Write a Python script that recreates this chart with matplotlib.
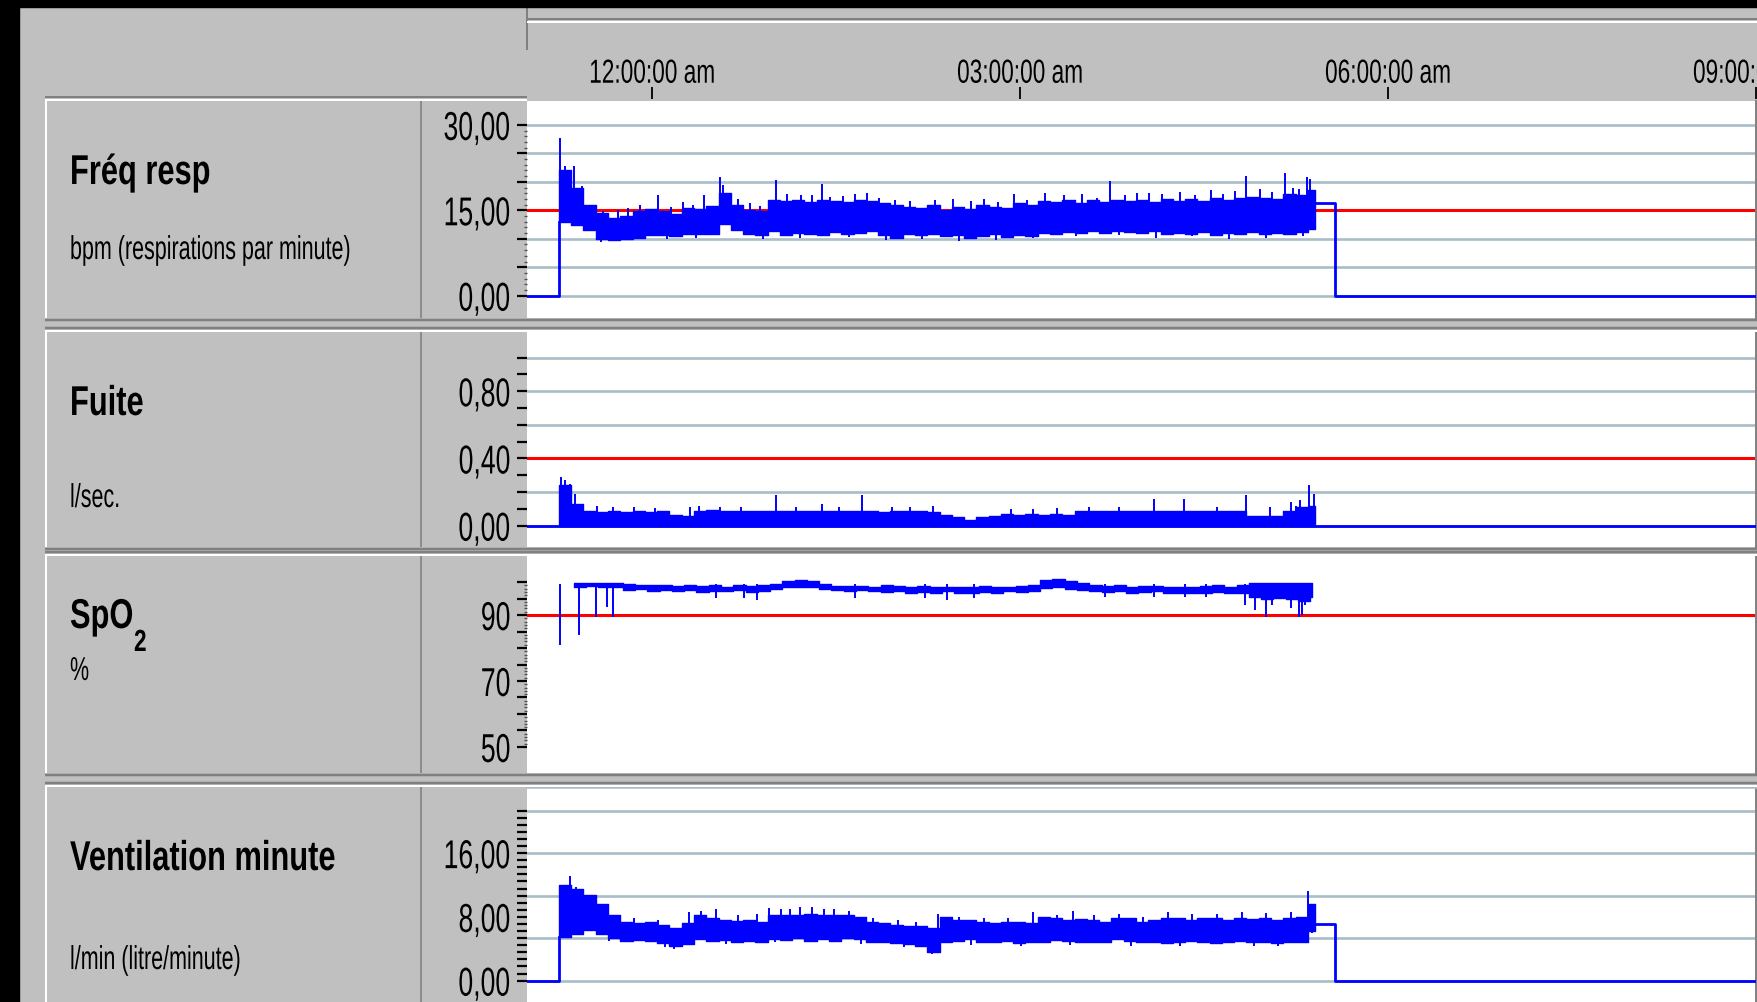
import numpy as np
import matplotlib
matplotlib.use("Agg")
import matplotlib.pyplot as plt
from matplotlib.transforms import Affine2D
from matplotlib.patheffects import AbstractPathEffect
from matplotlib.patches import Rectangle
from matplotlib.lines import Line2D

plt.rcParams['font.family'] = ['Liberation Sans', 'DejaVu Sans']

# ---------------- values ----------------
# time in hours after midnight (0 = 12:00:00 am)
hour_ticks = [0, 3, 6, 9]
hour_labels = ['12:00:00 am', '03:00:00 am', '06:00:00 am', '09:00:00 am']
view_start, view_end = -1.02, 8.99

rec_start = -0.76   # recording starts
rec_end = 5.40      # last recorded breath
tail_end = 5.56     # held value falls back to zero
bin_h = 0.1         # one envelope column = 6 min

panel_titles = ['Fréq resp', 'Fuite', 'SpO', 'Ventilation minute']
panel_units = ['bpm (respirations par minute)', 'l/sec.', '%', 'l/min (litre/minute)']

# Fréq resp (bpm): min / max of the trace per column, plus the spikes
freq_lo = [12.9, 12.4, 11.5, 10.0, 9.8, 10.0, 10.2, 10.6, 10.6, 10.4,
           10.8, 10.9, 10.8, 12.6, 11.6, 10.8, 10.7, 11.4, 10.6, 11.0,
           10.8, 10.6, 11.2, 10.8, 11.0, 11.4, 10.6, 10.2, 10.8, 10.6,
           10.9, 10.4, 10.6, 10.2, 10.5, 10.9, 10.3, 10.6, 10.4, 11.0,
           10.8, 11.2, 11.0, 11.3, 11.0, 11.4, 11.2, 11.0, 11.3, 10.9,
           11.0, 10.8, 11.1, 10.7, 11.0, 10.9, 11.2, 10.8, 11.0, 10.9,
           11.1, 11.8]
freq_hi = [22.0, 19.0, 16.0, 14.6, 13.6, 14.0, 14.8, 15.2, 14.8, 14.4,
           15.4, 15.2, 15.8, 18.0, 16.0, 15.0, 14.8, 16.8, 16.6, 16.8,
           16.4, 16.8, 16.6, 16.4, 16.8, 16.6, 16.2, 16.0, 15.6, 15.4,
           16.0, 15.0, 15.6, 15.2, 16.0, 15.6, 15.4, 16.2, 16.0, 16.6,
           16.4, 16.8, 16.2, 16.8, 16.4, 16.8, 16.6, 16.8, 16.4, 17.0,
           16.6, 17.0, 16.6, 17.2, 16.8, 17.2, 17.4, 17.2, 17.0, 17.8,
           17.6, 18.6]
freq_spike_t = [-0.755, -0.71, -0.68, -0.64, -0.60, -0.57, 0.05, 0.42, 0.55, 0.58,
                1.01, 1.10, 1.21, 1.38, 1.55, 1.75, 2.45, 2.95, 3.20, 3.73,
                4.05, 4.30, 4.55, 4.84, 4.95, 5.15, 5.22, 5.33, 5.36,
                -0.50, -0.40, -0.28, -0.20, -0.10, 0.15, 0.25, 0.33, 0.70, 0.80,
                0.88, 1.30, 1.45, 1.65, 1.85, 1.98, 2.10, 2.30, 2.60, 2.70,
                2.82, 3.05, 3.35, 3.50, 3.62, 3.85, 3.95, 4.15, 4.42, 4.65,
                4.75, 5.05, 5.27,
                -0.42, -0.30, -0.18, 0.12, 0.36, 0.90, 1.20, 1.60, 1.90, 2.20,
                2.50, 2.80, 3.10, 3.45, 3.80, 4.10, 4.40, 4.70, 5.00, 5.30]
freq_spike_v = [27.7, 22.8, 21.5, 22.8, 19.0, 19.3, 17.6, 17.6, 20.8, 19.4,
                20.3, 17.8, 17.6, 19.7, 17.5, 18.0, 17.0, 17.8, 18.0, 20.2,
                18.0, 18.2, 18.5, 21.0, 18.8, 21.5, 19.0, 20.8, 20.5,
                15.6, 14.8, 15.0, 15.4, 16.0, 15.6, 16.4, 16.0, 17.0, 16.2,
                15.8, 17.6, 17.4, 17.8, 17.2, 16.8, 16.6, 16.8, 16.6, 17.0,
                16.4, 16.8, 17.6, 17.8, 17.2, 17.6, 18.0, 17.8, 17.6, 17.8,
                18.4, 18.2, 18.8,
                9.4, 9.6, 9.8, 9.9, 10.2, 10.0, 10.2, 10.3, 9.8, 10.0,
                9.6, 9.8, 10.2, 10.4, 10.6, 10.2, 10.4, 10.0, 10.2, 10.4]
freq_base = 13.0
freq_tail = 16.2
freq_alarm = 15.0
freq_ticks = [0, 5, 10, 15, 20, 25, 30]
freq_ticklabels = ['0,00', '', '', '15,00', '', '', '30,00']
freq_grid = [0, 5, 10, 15, 20, 25, 30]

# Fuite (l/sec): top of the filled-looking trace per column, plus spikes
fuite_hi = [0.24, 0.13, 0.085, 0.08, 0.085, 0.08, 0.085, 0.08, 0.085, 0.065,
            0.06, 0.09, 0.095, 0.09, 0.09, 0.085, 0.09, 0.09, 0.085, 0.085,
            0.09, 0.085, 0.085, 0.09, 0.085, 0.085, 0.08, 0.085, 0.085, 0.085,
            0.08, 0.065, 0.05, 0.035, 0.05, 0.06, 0.07, 0.065, 0.07, 0.065,
            0.07, 0.065, 0.085, 0.09, 0.085, 0.09, 0.09, 0.085, 0.09, 0.085,
            0.09, 0.09, 0.085, 0.09, 0.09, 0.085, 0.06, 0.055, 0.06, 0.09,
            0.11, 0.12]
fuite_spike_t = [-0.74, -0.71, -0.67, -0.63, -0.45, -0.32, -0.15, 0.02, 0.31, 0.38,
                 0.55, 0.72, 1.006, 1.17, 1.38, 1.52, 1.71, 1.95, 2.10, 2.29,
                 2.92, 3.10, 3.30, 3.56, 3.80, 4.09, 4.33, 4.60, 4.84, 5.03,
                 5.20, 5.24, 5.28, 5.35, 5.39]
fuite_spike_v = [0.29, 0.27, 0.25, 0.19, 0.12, 0.11, 0.11, 0.105, 0.11, 0.12,
                 0.11, 0.11, 0.185, 0.11, 0.13, 0.11, 0.18, 0.11, 0.11, 0.115,
                 0.10, 0.10, 0.105, 0.11, 0.11, 0.16, 0.16, 0.11, 0.18, 0.11,
                 0.14, 0.12, 0.15, 0.24, 0.19]
fuite_alarm = 0.4
fuite_ticks = [0.0, 0.1, 0.2, 0.3, 0.4, 0.5, 0.6, 0.7, 0.8, 0.9, 1.0]
fuite_ticklabels = ['0,00', '', '', '', '0,40', '', '', '', '0,80', '', '']
fuite_grid = [0.0, 0.2, 0.4, 0.6, 0.8, 1.0]

# SpO2 (%): envelope per column from -0.64 h, plus the downward dips
spo2_start = -0.64
spo2_end = 5.376
spo2_lo = [98.6, 98.8, 98.6, 98.4, 97.6, 97.8, 97.4, 97.6, 97.2, 97.6,
           97.0, 97.4, 97.2, 97.6, 97.0, 97.2, 97.8, 98.4, 98.6, 98.6,
           97.8, 97.6, 97.4, 97.6, 97.2, 97.0, 97.2, 96.8, 97.0, 96.8,
           97.2, 96.6, 96.8, 97.0, 96.8, 97.2, 97.0, 97.4, 98.2, 98.4,
           98.0, 97.6, 97.2, 97.0, 97.2, 96.8, 97.0, 97.2, 96.8, 96.6,
           96.8, 96.6, 97.0, 96.6, 96.8, 95.6, 95.0, 95.2, 94.8, 94.4,
           95.4]
spo2_hi = [99.8, 99.8, 99.8, 99.6, 99.4, 99.2, 99.0, 99.2, 98.8, 99.2,
           98.8, 99.0, 98.6, 99.2, 98.8, 99.0, 99.4, 100.4, 100.6, 100.4,
           99.4, 98.8, 98.8, 98.8, 98.6, 99.0, 98.8, 98.6, 98.8, 98.4,
           98.6, 98.4, 98.6, 98.8, 98.4, 98.6, 98.8, 99.2, 100.6, 100.8,
           100.4, 99.6, 99.0, 98.8, 99.0, 98.6, 98.8, 98.8, 98.6, 98.4,
           98.6, 98.8, 99.0, 98.6, 99.2, 99.8, 99.6, 99.8, 99.6, 99.6,
           99.8]
spo2_dip_t = [-0.755, -0.60, -0.456, -0.37, -0.32, 0.52, 0.75, 0.85, 1.65, 2.22,
              2.40, 2.62, 3.69, 4.09, 4.34, 4.51, 4.83, 4.91, 5.00, 5.05,
              5.20, 5.27, 5.29, 5.32]
spo2_dip_v = [80.8, 83.9, 89.4, 92.5, 89.4, 95.1, 95.1, 94.6, 95.1, 95.1,
              94.6, 95.1, 95.6, 95.6, 95.6, 95.6, 93.1, 91.5, 89.5, 93.1,
              92.0, 89.5, 90.0, 93.0]
spo2_top = 99.4
spo2_alarm = 90
spo2_ticks = [50, 55, 60, 65, 70, 75, 80, 85, 90, 95, 100]
spo2_ticklabels = ['50', '', '', '', '70', '', '', '', '90', '', '']

# Ventilation minute (l/min)
vent_lo = [5.5, 5.8, 6.4, 5.8, 5.4, 5.0, 5.1, 5.0, 4.7, 4.3,
           4.6, 5.2, 5.0, 5.1, 4.8, 5.0, 4.8, 5.2, 5.1, 5.3,
           5.0, 5.2, 5.0, 5.3, 5.2, 4.9, 4.8, 4.7, 4.6, 4.4,
           3.6, 4.8, 5.0, 5.2, 4.9, 4.8, 5.0, 4.7, 4.9, 4.8,
           5.1, 5.0, 4.8, 4.9, 4.8, 5.2, 5.0, 4.8, 4.9, 4.7,
           4.9, 5.0, 4.8, 4.7, 4.9, 5.0, 4.8, 4.9, 4.7, 4.8,
           4.9, 6.2]
vent_hi = [12.0, 11.5, 10.8, 9.6, 8.2, 7.4, 7.2, 7.3, 7.0, 6.6,
           7.2, 8.2, 7.9, 7.6, 7.5, 7.6, 7.4, 8.2, 8.3, 8.2,
           8.4, 8.3, 8.2, 8.3, 8.0, 7.4, 7.2, 7.0, 6.8, 6.9,
           6.6, 8.0, 7.6, 7.6, 7.4, 7.2, 7.4, 7.3, 7.2, 8.0,
           7.8, 7.6, 7.7, 7.6, 7.4, 7.8, 7.8, 7.4, 7.6, 7.8,
           7.8, 7.6, 7.9, 7.8, 7.6, 7.9, 7.7, 7.9, 7.6, 7.8,
           8.0, 9.6]
vent_spike_t = [-0.67, -0.62, 0.52, 0.95, 1.12, 1.30, 1.48, 2.33, 3.43, 4.20, 5.34, 5.37,
                -0.45, -0.30, -0.15, 0.05, 0.30, 0.40, 0.70, 0.85, 1.05, 1.20,
                1.40, 1.60, 1.80, 2.00, 2.15, 2.50, 2.70, 2.90, 3.10, 3.30,
                3.60, 3.80, 4.00, 4.40, 4.60, 4.80, 5.00, 5.20,
                -0.35, 0.10, 0.18, 0.60, 1.00, 1.70, 2.05, 2.28, 2.60, 3.00,
                3.40, 3.90, 4.30, 4.90, 5.10]
vent_spike_v = [13.1, 11.8, 9.0, 9.1, 9.0, 9.2, 9.0, 8.4, 8.8, 8.6, 11.2, 9.6,
                9.0, 8.0, 7.8, 7.6, 8.6, 8.8, 8.2, 8.4, 9.0, 9.2,
                9.0, 8.8, 7.8, 7.6, 7.4, 8.0, 7.8, 7.8, 8.6, 8.2,
                8.2, 8.4, 8.0, 8.4, 8.4, 8.6, 8.5, 8.6,
                5.0, 4.2, 4.0, 4.6, 4.8, 4.6, 4.2, 3.4, 4.5, 4.4,
                4.5, 4.4, 4.4, 4.4, 4.3]
vent_base = 6.0
vent_tail = 7.1
vent_label_at = {0: '0,00', 9: '8,00', 18: '16,00'}
vent_grid = [0, 16 / 3, 32 / 3, 16, 64 / 3]

# ---------------- look ----------------
GREY = '#C0C0C0'
DARK = '#808080'
BLUE = '#0000FF'
RED = '#FF0000'
GRIDC = '#A9BCC8'
W, H = 1757, 1002


class Squeeze(AbstractPathEffect):
    """draw text narrower/taller, like the condensed screen font of the monitor"""

    def __init__(self, sx, anchor='left', sy=1.0):
        super().__init__()
        self.sx = sx
        self.sy = sy
        self.anchor = anchor

    def draw_path(self, renderer, gc, tpath, affine, rgbFace=None):
        ext = tpath.get_extents()
        x0 = 0
        if self.anchor == 'right':
            x0 = ext.x1
        elif self.anchor == 'center':
            x0 = (ext.x0 + ext.x1) / 2
        pre = Affine2D().translate(-x0, 0).scale(self.sx, self.sy).translate(x0, 0)
        renderer.draw_path(gc, tpath, pre + affine, rgbFace)


fig = plt.figure(figsize=(W / 100, H / 100), dpi=100, facecolor=GREY)
px = Affine2D().scale(1 / W, -1 / H).translate(0, 1) + fig.transFigure


def hline(y, x0, x1, color, w):
    fig.add_artist(Line2D([x0, x1], [y, y], transform=px, color=color,
                          lw=w * 0.72, solid_capstyle='butt'))


def vline(x, y0, y1, color, w):
    fig.add_artist(Line2D([x, x], [y0, y1], transform=px, color=color,
                          lw=w * 0.72, solid_capstyle='butt'))


def axes_px(x0, y0, x1, y1):
    return fig.add_axes([x0 / W, 1 - y1 / H, (x1 - x0) / W, (y1 - y0) / H])


def setup(ax, ylim, ticks, labels, minor, grid):
    ax.set_facecolor('white')
    ax.set_xlim(view_start, view_end)
    ax.set_ylim(*ylim)
    for s in ['top', 'left', 'bottom']:
        ax.spines[s].set_visible(False)
    ax.spines['right'].set_color(DARK)
    ax.spines['right'].set_linewidth(1.4)
    ax.set_xticks([])
    ax.set_yticks(ticks, labels)
    ax.set_yticks(minor, minor=True)
    ax.tick_params(axis='y', which='major', direction='out', length=7.2, width=1.6,
                   color='black', pad=4.3, labelsize=29)
    ax.tick_params(axis='y', which='minor', direction='out', length=2.2, width=1.0,
                   color='#505050')
    for g in grid:
        ax.axhline(g, color=GRIDC, lw=1.9, zorder=1)
    for lbl in ax.get_yticklabels():
        lbl.set_path_effects([Squeeze(0.66, 'right')])


def band(ax, t0, t1, lo, hi):
    t = np.append(t0 + bin_h * np.arange(len(lo)), t1)
    lo = np.append(lo, lo[-1])
    hi = np.append(hi, hi[-1])
    ax.fill_between(t, lo, hi, step='post', color=BLUE, lw=1.0, zorder=3)


def label(x, y, s, size, sx, bold=False):
    # the screen font is tall and narrow: draw a smaller font stretched upward
    fig.text(x, y, s, transform=px, fontsize=size * sx, va='baseline',
             fontweight='bold' if bold else 'normal',
             path_effects=[Squeeze(1.0, 'left', 1 / sx)])


# ---------------- window chrome ----------------
panels = [(101, 318), (332, 547), (556, 773), (787, 1002)]

fig.add_artist(Rectangle((0, 0), W, 7, transform=px, color='black', zorder=5))
fig.add_artist(Rectangle((0, 0), 19, H, transform=px, color='black', zorder=5))
vline(9, 7, H, '#8C8C8C', 2)
vline(527, 7, 50, DARK, 2)
hline(19.5, 527, W, DARK, 2)
hline(22.5, 527, W, 'white', 2)
hline(97, 45, 527, DARK, 2)
hline(100, 45, 527, 'white', 2)
for (ya, yb), (na, nb) in zip(panels[:-1], panels[1:]):
    hline(yb + 2, 45, W, DARK, 2.5)
    hline(na - 3.5, 45, W, DARK, 2.5)
    hline(na - 1, 45, W, 'white', 2)
for ya, yb in panels:
    vline(46, ya - 2, yb, 'white', 2)
    vline(421, ya, yb, DARK, 1.6)

# ---------------- header with the clock times ----------------
hx = axes_px(527, 25, 1756, 99)
hx.set_facecolor('none')
for s in hx.spines.values():
    s.set_visible(False)
hx.set_xlim(view_start, view_end)
hx.set_yticks([])
hx.set_xticks(hour_ticks, [''] * len(hour_ticks))
hx.tick_params(axis='x', direction='in', length=9, width=1.3, color='black')
for h, lab in zip(hour_ticks, hour_labels):
    hx.text(h, 0.22, lab, transform=hx.get_xaxis_transform(), ha='center', va='baseline',
            fontsize=24 * 0.68, clip_on=False,
            path_effects=[Squeeze(1.0, 'center', 1 / 0.68)])

# ---------------- Fréq resp ----------------
ax1 = axes_px(527, 101, 1756, 318)
setup(ax1, (-3.92, 34.2), freq_ticks, freq_ticklabels, np.arange(0, 31, 1), freq_grid)
ax1.axhline(freq_alarm, color=RED, lw=2.2, zorder=2)
band(ax1, rec_start, rec_end, freq_lo, freq_hi)
ax1.vlines(freq_spike_t, freq_base, freq_spike_v, color=BLUE, lw=1.4, zorder=3)
ax1.plot([view_start, rec_start, rec_start], [0, 0, freq_lo[0]], color=BLUE, lw=2, zorder=3)
ax1.plot([rec_end, tail_end, tail_end, view_end], [freq_tail, freq_tail, 0, 0],
         color=BLUE, lw=2, zorder=3)

# ---------------- Fuite ----------------
ax2 = axes_px(527, 332, 1756, 547)
setup(ax2, (-0.127, 1.153), fuite_ticks, fuite_ticklabels, [], fuite_grid)
ax2.axhline(fuite_alarm, color=RED, lw=2.2, zorder=2)
band(ax2, rec_start, rec_end, [0.0] * len(fuite_hi), fuite_hi)
ax2.vlines(fuite_spike_t, 0, fuite_spike_v, color=BLUE, lw=1.4, zorder=3)
ax2.plot([view_start, view_end], [0, 0], color=BLUE, lw=2, zorder=3)

# ---------------- SpO2 ----------------
ax3 = axes_px(527, 556, 1756, 773)
setup(ax3, (42.1, 107.9), spo2_ticks, spo2_ticklabels, np.arange(50, 101, 1), [])
ax3.axhline(spo2_alarm, color=RED, lw=2.2, zorder=2)
band(ax3, spo2_start, spo2_end, spo2_lo, spo2_hi)
ax3.vlines(spo2_dip_t, spo2_dip_v, spo2_top, color=BLUE, lw=1.4, zorder=3)

# ---------------- Ventilation minute ----------------
vent_ticks = [k * 8 / 9 for k in range(25)]
vent_ticklabels = [vent_label_at.get(k, '') for k in range(25)]
ax4 = axes_px(527, 787, 1756, 1002)
setup(ax4, (-2.68, 24.3), vent_ticks, vent_ticklabels, [], vent_grid)
ax4.spines['top'].set_visible(True)
ax4.spines['top'].set_color(GRIDC)
ax4.spines['top'].set_linewidth(1.8)
band(ax4, rec_start, rec_end, vent_lo, vent_hi)
ax4.vlines(vent_spike_t, vent_base, vent_spike_v, color=BLUE, lw=1.4, zorder=3)
ax4.plot([view_start, rec_start, rec_start], [0, 0, vent_lo[0]], color=BLUE, lw=2, zorder=3)
ax4.plot([rec_end, tail_end, tail_end, view_end], [vent_tail, vent_tail, 0, 0],
         color=BLUE, lw=2, zorder=3)

# ---------------- panel names and units ----------------
title_y = [184, 415, 628, 870]
unit_y = [259, 507, 680, 969]
for name, unit, ty, uy in zip(panel_titles, panel_units, title_y, unit_y):
    label(70, ty, name, 30, 0.74, bold=True)
    label(70, uy, unit, 23.8, 0.65)
label(134, 651, '2', 22, 0.74, bold=True)   # subscript of SpO2

fig.savefig('out.png', dpi=100, facecolor=GREY)
